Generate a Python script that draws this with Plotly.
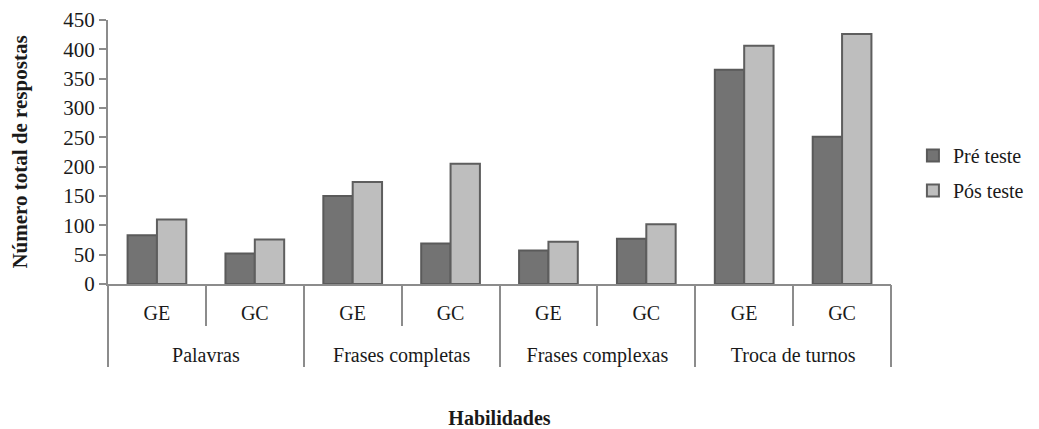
import plotly.graph_objects as go

groups = ["Palavras", "Frases completas", "Frases complexas", "Troca de turnos"]
subgroups = ["GE", "GC", "GE", "GC", "GE", "GC", "GE", "GC"]
pre_teste = [83, 52, 150, 69, 57, 77, 365, 251]
pos_teste = [110, 76, 174, 205, 72, 102, 406, 426]
y_ticks = [0, 50, 100, 150, 200, 250, 300, 350, 400, 450]

FONT = "Liberation Serif"
TXT = "#1a1a1a"
AX = "#8c8c8c"

n = len(subgroups)
pos = list(range(n))
group_size = n // len(groups)
group_centers = [g * group_size + (group_size - 1) / 2 for g in range(len(groups))]
sub_bounds = [p - 0.5 for p in range(n + 1)]
group_bounds = [g * group_size - 0.5 for g in range(len(groups) + 1)]

fig = go.Figure()
fig.add_trace(go.Bar(
    x=pos, y=pre_teste, name="Pré teste", legendgroup="a",
    marker=dict(color="#737373", line=dict(color="#5a5a5a", width=2)),
))
fig.add_trace(go.Bar(
    x=pos, y=pos_teste, name="Pós teste", legendgroup="b",
    marker=dict(color="#bebebe", line=dict(color="#5e5e5e", width=2)),
))
# helper trace so the group-level axis is drawn
fig.add_trace(go.Scatter(
    x=group_centers, y=[0] * len(groups), xaxis="x2", mode="markers",
    marker=dict(opacity=0), showlegend=False, hoverinfo="skip",
))

xr = [-0.5, n - 0.5]
# page body has an 8px margin, so the figure is 8px smaller than the window
fig.update_layout(
    width=1031, height=421,
    margin=dict(l=100, r=148, t=12, b=145, autoexpand=False),
    paper_bgcolor="white", plot_bgcolor="white",
    barmode="group", bargap=0.4, bargroupgap=0,
    font=dict(family=FONT, size=21, color=TXT),
    showlegend=True,
    legend=dict(x=1.028, y=0.42, xanchor="left", yanchor="middle",
                font=dict(family=FONT, size=20, color=TXT),
                itemwidth=30, tracegroupgap=6, traceorder="grouped"),
    xaxis=dict(
        range=xr, autorange=False, fixedrange=True,
        tickmode="array", tickvals=pos, ticktext=subgroups,
        showline=True, linecolor=AX, linewidth=2,
        ticks="", showgrid=False, zeroline=False,
        tickfont=dict(family=FONT, size=20, color=TXT),
        ticklabelstandoff=10,
        minor=dict(tickmode="array", tickvals=sub_bounds, ticks="outside",
                   ticklen=40, tickcolor=AX, tickwidth=2, showgrid=False),
        automargin=False,
    ),
    xaxis2=dict(
        overlaying="x", anchor="y", side="bottom",
        range=xr, autorange=False, fixedrange=True,
        tickmode="array", tickvals=group_centers, ticktext=groups,
        showline=False, ticks="", showgrid=False, zeroline=False,
        tickfont=dict(family=FONT, size=20, color=TXT),
        ticklabelstandoff=57,
        minor=dict(tickmode="array", tickvals=group_bounds, ticks="outside",
                   ticklen=82, tickcolor=AX, tickwidth=2, showgrid=False),
        title=dict(text="<b>Habilidades</b>", font=dict(family=FONT, size=20, color=TXT), standoff=47),
        automargin=False,
    ),
    yaxis=dict(
        range=[0, 450], autorange=False, tickvals=y_ticks,
        showline=True, linecolor=AX, linewidth=2,
        ticks="outside", ticklen=7, tickcolor=AX, tickwidth=2,
        showgrid=False, zeroline=False,
        tickfont=dict(family=FONT, size=21, color=TXT),
        title=dict(text="<b>Número total de respostas</b>", font=dict(family=FONT, size=21, color=TXT), standoff=33),
        automargin=False,
    ),
)

fig.write_html("out.html")
